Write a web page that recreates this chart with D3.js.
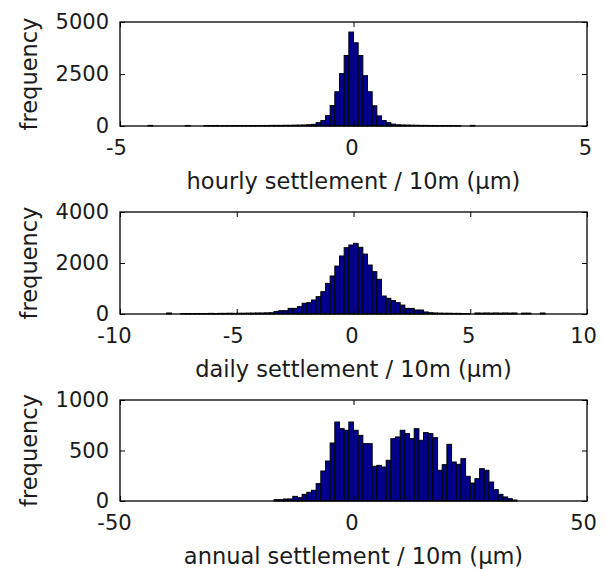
<!DOCTYPE html>
<html>
<head>
<meta charset="utf-8">
<script src="https://cdn.jsdelivr.net/npm/d3@7"></script>
<style>
	html, body { margin: 0; padding: 0; background: #fff; }
	svg text { font-family: "DejaVu Sans", sans-serif; fill: #1a1a1a; }
</style>
</head>
<body>
<div id="chart"></div>
<script>
// hourly: bins of 0.1 starting at -4.4
const hourlyStart = -4.4;
const hourlyWidth = 0.1;
const hourlyCounts = [
	30, 0, 0, 0, 0, 0, 0, 0, 25, 0,
	0, 0, 25, 20, 25, 10, 15, 15, 20, 15,
	20, 20, 20, 25, 25, 25, 30, 30, 30, 35,
	35, 40, 45, 50, 60, 80, 160, 260, 500, 985,
	1645, 2517, 3390, 4516, 4000, 3390, 2420, 1645, 970, 485,
	260, 160, 90, 60, 50, 45, 40, 35, 30, 30,
	25, 25, 20, 20, 20, 15, 15, 0, 0, 30
];

// daily: bins of 0.2 starting at -8.2
const dailyStart = -8.2;
const dailyWidth = 0.2;
const dailyCounts = [
	0, 40, 0, 0, 15, 20, 15, 20, 20, 20,
	25, 20, 25, 25, 30, 25, 30, 30, 35, 35,
	40, 40, 45, 50, 100, 130, 130, 220, 220, 290,
	420, 445, 550, 680, 875, 1200, 1490, 1880, 2275, 2600,
	2706, 2770, 2615, 2350, 1920, 1660, 1360, 705, 615, 525,
	445, 350, 220, 220, 155, 155, 80, 50, 40, 35,
	30, 30, 25, 25, 20, 20, 0, 40, 35, 40,
	35, 40, 35, 40, 35, 40, 0, 35, 35, 0,
	0, 40, 0
];

// annual: bins of 1 starting at -17
const annualStart = -17;
const annualWidth = 1;
const annualCounts = [
	13, 13, 20, 20, 46, 33, 66, 86, 106, 172,
	297, 396, 574, 782, 716, 700, 782, 700, 650, 568,
	568, 343, 353, 337, 403, 617, 634, 700, 667, 617,
	716, 601, 677, 667, 627, 304, 360, 561, 386, 363,
	419, 244, 178, 221, 320, 304, 188, 112, 66, 40,
	23, 10
];

const xDomains = [[-5, 5], [-10, 10], [-50, 50]];
const xTickValues = [[-5, 0, 5], [-10, -5, 0, 5, 10], [-50, 0, 50]];
const yDomains = [[0, 5000], [0, 4000], [0, 1000]];
const yTickValues = [[0, 2500, 5000], [0, 2000, 4000], [0, 500, 1000]];
const xLabels = [
	"hourly settlement / 10m (\u00b5m)",
	"daily settlement / 10m (\u00b5m)",
	"annual settlement / 10m (\u00b5m)"
];
const yLabel = "frequency";

const series = [
	{ start: hourlyStart, width: hourlyWidth, counts: hourlyCounts },
	{ start: dailyStart, width: dailyWidth, counts: dailyCounts },
	{ start: annualStart, width: annualWidth, counts: annualCounts }
];

// layout (pixels)
const W = 605;
const H = 569;
const left = 120;
const right = 587;
const panelTops = [22, 212, 400];
const panelBottoms = [126, 314, 501];
const TICK = 5;
const TICK_FONT = 21;
const LABEL_FONT = 22.5;
const BAR_FILL = "#00008f";

// plain hyphen for negatives, like the original
const fmt = (d) => String(d);

const svg = d3
	.select("#chart")
	.append("svg")
	.attr("width", W)
	.attr("height", H)
	.attr("viewBox", `0 0 ${W} ${H}`);

series.forEach((s, i) => {
	const top = panelTops[i];
	const bottom = panelBottoms[i];

	const x = d3.scaleLinear().domain(xDomains[i]).range([left, right]);
	const y = d3.scaleLinear().domain(yDomains[i]).range([bottom, top]);

	const g = svg.append("g").attr("class", `panel panel-${i}`);

	// bins
	const bins = s.counts.map((c, k) => ({
		x0: s.start + k * s.width,
		x1: s.start + (k + 1) * s.width,
		count: c
	}));

	g.append("g")
		.attr("class", "bars")
		.selectAll("rect")
		.data(bins.filter((b) => b.count > 0))
		.join("rect")
		.attr("x", (b) => x(b.x0))
		.attr("y", (b) => y(b.count))
		.attr("width", (b) => x(b.x1) - x(b.x0))
		.attr("height", (b) => y(0) - y(b.count))
		.attr("fill", BAR_FILL)
		.attr("stroke", "#000")
		.attr("stroke-width", 1);

	// axes, ticks pointing inwards
	const axisStyle = (sel) => {
		sel.select(".domain").remove();
		sel.selectAll(".tick line").attr("stroke", "#000");
		sel.selectAll(".tick text")
			.attr("font-size", TICK_FONT)
			.attr("font-family", "DejaVu Sans, sans-serif")
			.attr("fill", "#1a1a1a");
	};

	g.append("g")
		.attr("transform", `translate(0, ${bottom})`)
		.call(
			d3.axisBottom(x)
				.tickValues(xTickValues[i])
				.tickSizeInner(-TICK)
				.tickSizeOuter(0)
				.tickPadding(14)
				.tickFormat(fmt)
		)
		.call(axisStyle)
		.selectAll(".tick text")
		.attr("dx", (d) => -2 * fmt(d).length);

	g.append("g")
		.attr("transform", `translate(0, ${top})`)
		.call(
			d3.axisTop(x)
				.tickValues(xTickValues[i])
				.tickSizeInner(-TICK)
				.tickSizeOuter(0)
				.tickFormat("")
		)
		.call(axisStyle);

	g.append("g")
		.attr("transform", `translate(${left}, 0)`)
		.call(
			d3.axisLeft(y)
				.tickValues(yTickValues[i])
				.tickSizeInner(-TICK)
				.tickSizeOuter(0)
				.tickPadding(11)
				.tickFormat(fmt)
		)
		.call(axisStyle);

	g.append("g")
		.attr("transform", `translate(${right}, 0)`)
		.call(
			d3.axisRight(y)
				.tickValues(yTickValues[i])
				.tickSizeInner(-TICK)
				.tickSizeOuter(0)
				.tickFormat("")
		)
		.call(axisStyle);

	// box
	g.append("rect")
		.attr("x", left)
		.attr("y", top)
		.attr("width", right - left)
		.attr("height", bottom - top)
		.attr("fill", "none")
		.attr("stroke", "#000")
		.attr("stroke-width", 1.3);

	// labels
	g.append("text")
		.attr("x", (left + right) / 2)
		.attr("y", bottom + 63)
		.attr("text-anchor", "middle")
		.attr("font-size", LABEL_FONT)
		.text(xLabels[i]);

	g.append("text")
		.attr("transform", `translate(37, ${(top + bottom) / 2}) rotate(-90)`)
		.attr("text-anchor", "middle")
		.attr("font-size", LABEL_FONT)
		.text(yLabel);
});
</script>
</body>
</html>
